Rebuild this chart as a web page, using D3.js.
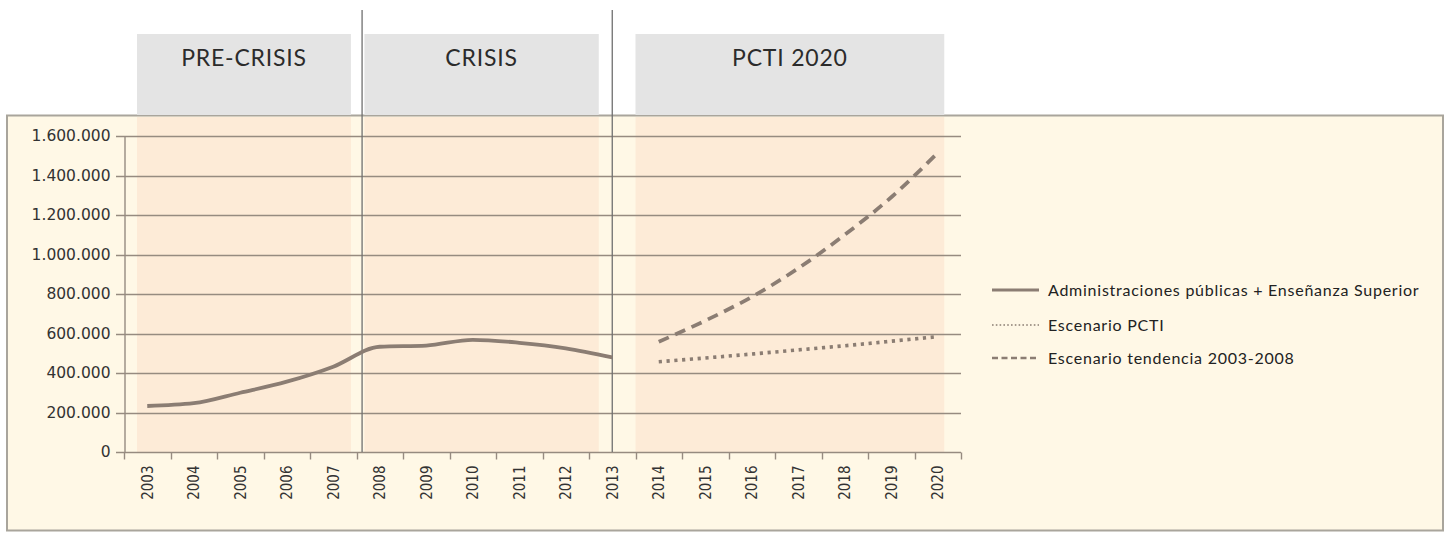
<!DOCTYPE html>
<html>
<head>
    <meta charset="utf-8">
    <style>
        body {
            margin: 0;
            padding: 0;
            background-color: #ffffff;
        }
        .tick-y {
            font-family: "DejaVu Sans", Verdana, sans-serif;
            font-size: 15.5px;
            fill: #333;
        }
        .tick-x {
            font-family: "DejaVu Sans Condensed", "DejaVu Sans", sans-serif;
            font-size: 15px;
            fill: #333;
        }
        .period {
            font-family: Lato, "Open Sans", sans-serif;
            font-size: 23px;
            letter-spacing: 0.8px;
            fill: #2b2b2b;
        }
        .legend {
            font-family: Lato, "Open Sans", sans-serif;
            font-size: 16px;
            letter-spacing: 0.75px;
            fill: #222;
        }
    </style>
    <script src="https://d3js.org/d3.v7.min.js"></script>
</head>
<body>
<div id="chart"></div>
<script>
    // data
    var years = ["2003", "2004", "2005", "2006", "2007", "2008", "2009", "2010", "2011",
                 "2012", "2013", "2014", "2015", "2016", "2017", "2018", "2019", "2020"];
    var realYears = ["2003", "2004", "2005", "2006", "2007", "2008", "2009", "2010", "2011", "2012", "2013"];
    var realValues = [233000, 247000, 300000, 356000, 432000, 533000, 539000, 568000, 553000, 525000, 479000];
    var scenarioYears = ["2014", "2015", "2016", "2017", "2018", "2019", "2020"];
    var pctiValues = [457000, 476000, 496000, 517000, 538000, 561000, 584000];
    var trendValues = [558000, 665000, 785000, 930000, 1100000, 1290000, 1515000];
    var yTicks = [0, 200000, 400000, 600000, 800000, 1000000, 1200000, 1400000, 1600000];
    var periodNames = ["PRE-CRISIS", "CRISIS", "PCTI 2020"];
    var legendNames = ["Administraciones públicas + Enseñanza Superior", "Escenario PCTI", "Escenario tendencia 2003-2008"];

    // layout (fractional year positions for the decorations)
    var periodSpans = [[2003.28, 2007.88], [2008.17, 2013.21], [2014.0, 2020.64]];
    var dividerAt = [2008.12, 2013.5];

    var W = 1453, H = 535;
    var lineColor = "#8b7d73";
    var gridColor = "#968b80";

    var svg = d3.select("#chart").append("svg")
        .attr("width", W)
        .attr("height", H);

    var x = d3.scaleBand().domain(years).range([124, 961]).padding(0);
    var xYear = d3.scaleLinear().domain([2003, 2021]).range([124, 961]);
    var y = d3.scaleLinear().domain([0, 1600000]).range([452, 136]);
    var cx = function(d) { return x(d) + x.bandwidth() / 2; };

    // outer chart box
    svg.append("rect")
        .attr("x", 7).attr("y", 115.5)
        .attr("width", 1436).attr("height", 415)
        .attr("fill", "#fff8e6")
        .attr("stroke", "#a9a59c")
        .attr("stroke-width", 2);

    // grey period headers and peach bands
    svg.selectAll(".head")
        .data(periodSpans)
        .enter().append("rect")
        .attr("x", function(d) { return xYear(d[0]); })
        .attr("y", 34)
        .attr("width", function(d) { return xYear(d[1]) - xYear(d[0]); })
        .attr("height", 81)
        .attr("fill", "#e4e4e4");

    svg.selectAll(".band")
        .data(periodSpans)
        .enter().append("rect")
        .attr("x", function(d) { return xYear(d[0]); })
        .attr("y", 117)
        .attr("width", function(d) { return xYear(d[1]) - xYear(d[0]); })
        .attr("height", y(0) - 117)
        .attr("fill", "#fdebd7");

    svg.selectAll(".period")
        .data(periodNames)
        .enter().append("text")
        .attr("class", "period")
        .attr("x", function(d, i) { return (xYear(periodSpans[i][0]) + xYear(periodSpans[i][1])) / 2; })
        .attr("y", 66)
        .attr("text-anchor", "middle")
        .text(function(d) { return d; });

    // gridlines
    svg.append("g")
        .selectAll("line")
        .data(yTicks)
        .enter().append("line")
        .attr("x1", 116).attr("x2", 961)
        .attr("y1", function(d) { return Math.round(y(d)) + 0.5; })
        .attr("y2", function(d) { return Math.round(y(d)) + 0.5; })
        .attr("stroke", gridColor)
        .attr("stroke-width", 1.4);

    // y axis
    var yAxis = svg.append("g")
        .attr("transform", "translate(124.5,0)")
        .call(d3.axisLeft(y).tickValues(yTicks).tickSize(0).tickPadding(14)
            .tickFormat(function(d) { return d3.format(",")(d).replace(/,/g, "."); }));
    yAxis.select(".domain").attr("stroke", gridColor).attr("stroke-width", 1.4);
    yAxis.selectAll("text").attr("class", "tick-y").attr("fill", null);

    // x axis: ticks on category boundaries
    var xAxis = svg.append("g").attr("transform", "translate(0," + (Math.round(y(0)) + 0.5) + ")");
    xAxis.selectAll(".xt")
        .data(years.concat(["2021"]))
        .enter().append("line")
        .attr("x1", function(d) { return Math.round(xYear(+d)) + 0.5; })
        .attr("x2", function(d) { return Math.round(xYear(+d)) + 0.5; })
        .attr("y1", 0).attr("y2", 7)
        .attr("stroke", gridColor)
        .attr("stroke-width", 1.4);
    xAxis.selectAll(".tick-x")
        .data(years)
        .enter().append("text")
        .attr("class", "tick-x")
        .attr("transform", function(d) { return "translate(" + (cx(d) + 5.5) + ",13) rotate(-90)"; })
        .attr("text-anchor", "end")
        .text(function(d) { return d; });

    // vertical dividers
    svg.selectAll(".divider")
        .data(dividerAt)
        .enter().append("line")
        .attr("x1", function(d) { return xYear(d); })
        .attr("x2", function(d) { return xYear(d); })
        .attr("y1", 10).attr("y2", y(0))
        .attr("stroke", "#6f6f6f")
        .attr("stroke-width", 1.3);

    // series
    var line = d3.line()
        .x(function(d) { return cx(d[0]); })
        .y(function(d) { return y(d[1]); })
        .curve(d3.curveMonotoneX);

    svg.append("path")
        .datum(d3.zip(realYears, realValues))
        .attr("d", line)
        .attr("fill", "none")
        .attr("stroke", lineColor)
        .attr("stroke-width", 3.8);

    svg.append("path")
        .datum(d3.zip(scenarioYears, pctiValues))
        .attr("d", line)
        .attr("fill", "none")
        .attr("stroke", lineColor)
        .attr("stroke-width", 3.6)
        .attr("stroke-dasharray", "3.2,4.6");

    svg.append("path")
        .datum(d3.zip(scenarioYears, trendValues))
        .attr("d", line)
        .attr("fill", "none")
        .attr("stroke", lineColor)
        .attr("stroke-width", 3.8)
        .attr("stroke-dasharray", "11,7");

    // legend
    var legendY = [290, 325, 358];
    var legendDash = [null, "1.6,2.2", "6,3.5"];
    var legendWidth = [2.8, 1.6, 2.4];
    var lg = svg.append("g");
    legendNames.forEach(function(name, i) {
        lg.append("line")
            .attr("x1", 992).attr("x2", 1039)
            .attr("y1", legendY[i]).attr("y2", legendY[i])
            .attr("stroke", lineColor)
            .attr("stroke-width", legendWidth[i])
            .attr("stroke-dasharray", legendDash[i]);
        lg.append("text")
            .attr("class", "legend")
            .attr("x", 1048)
            .attr("y", legendY[i] + 5.5)
            .text(name);
    });
</script>
</body>
</html>
